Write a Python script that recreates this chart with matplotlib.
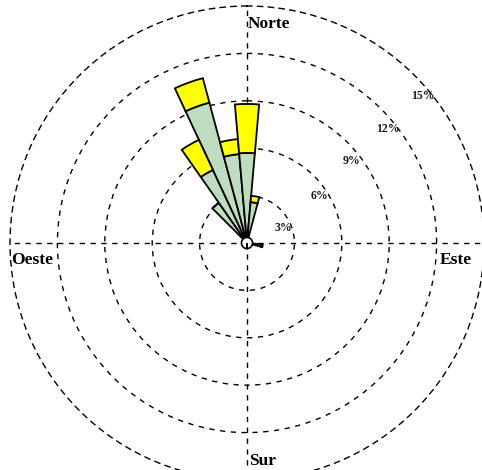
import numpy as np
import matplotlib
matplotlib.use('Agg')
from matplotlib import pyplot as plt

# Wind direction (degrees from north, clockwise) and frequencies (%)
directions = [320, 330, 340, 350, 0, 10, 100]
low_speed = [3.1, 5.1, 9.2, 5.65, 5.7, 2.6, 0.9]     # green part
high_speed = [0.0, 2.1, 1.6, 0.95, 3.1, 0.4, 0.1]   # yellow part, stacked on top

ring_values = [3, 6, 9, 12, 15]
ring_labels = ['3%', '6%', '9%', '12%', '15%']
cardinal_labels = ['Norte', 'Este', 'Sur', 'Oeste']

W, H = 482, 470
cx, cy = 247, 243      # centre of rose in pixels (from top-left)
R = 237                # radius of 15% ring in pixels

fig = plt.figure(figsize=(W / 100, H / 100), dpi=100)
ax = fig.add_axes([(cx - R) / W, (H - cy - R) / H, 2 * R / W, 2 * R / H],
                  projection='polar')
ax.set_theta_zero_location('N')
ax.set_theta_direction(-1)
ax.set_ylim(0, 15)

dash = (0, (3.8, 4))
ax.set_rgrids(ring_values[:-1])
ax.set_thetagrids([0, 90, 180, 270])
ax.set_xticklabels([])
ax.set_yticklabels([])
ax.grid(True, color='black', linestyle=dash, linewidth=1.0)
ax.spines['polar'].set_linestyle(dash)
ax.spines['polar'].set_linewidth(1.0)
ax.patch.set_alpha(0)

theta = np.deg2rad(directions)
width = np.deg2rad(10)
ax.bar(theta, low_speed, width=width, bottom=0, color='#bfdcbf',
       edgecolor='black', linewidth=1.3, zorder=3)
ax.bar(theta, high_speed, width=width, bottom=low_speed, color='#ffff00',
       edgecolor='black', linewidth=1.3, zorder=3)

# calm circle
ax.bar(0, 0.35, width=2 * np.pi, bottom=0, color='white',
       edgecolor='black', linewidth=1.2, zorder=5)

# ring labels
label_angles = [68, 57, 52, 51, 50]
label_offsets = [0.5, 0.55, 0.6, 0.5, 0.5]
for ang, val, off, txt in zip(label_angles, ring_values, label_offsets, ring_labels):
    ax.text(np.deg2rad(ang), val - off, txt, ha='center', va='center',
            fontsize=8.5, fontweight='bold', family='Liberation Serif',
            color='#1a1a1a', zorder=6)

# cardinal labels (pixel positions)
card_pos = [(269, 24), (456, 260), (262.5, 461), (32.5, 260)]
for (px, py), txt in zip(card_pos, cardinal_labels):
    fig.text(px / W, 1 - py / H, txt, ha='center', va='center',
             fontsize=12.5, fontweight='bold', family='Liberation Serif')

fig.savefig('out.png', dpi=100)
